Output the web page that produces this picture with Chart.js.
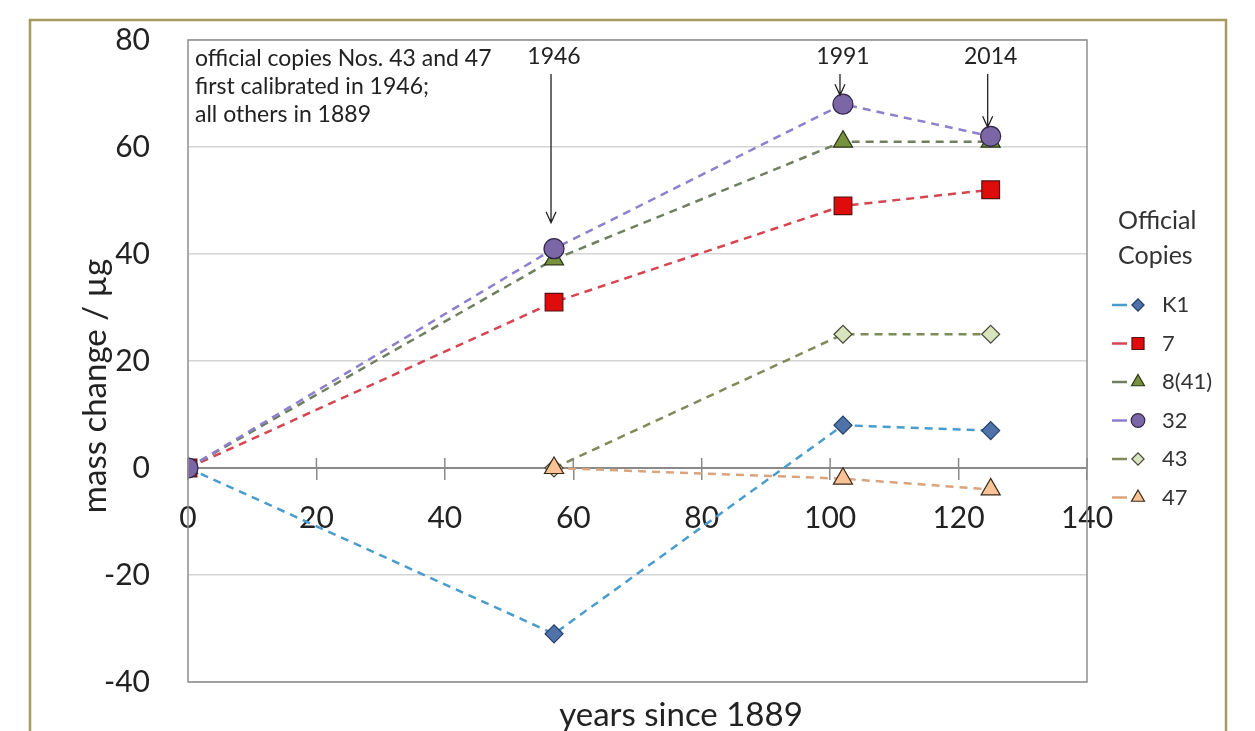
<!DOCTYPE html>
<html lang="en">
  <head>
    <meta charset="UTF-8" />
    <title>Mass change of the official copies</title>
    <script src="https://cdn.jsdelivr.net/npm/chart.js"></script>
    <style>
      body {
        margin: 0;
        background: #fff;
      }
      .chart-box {
        width: 1255px;
        height: 731px;
      }
    </style>
  </head>
  <body>
    <div class="chart-box">
      <canvas id="massChart" width="1255" height="731"></canvas>
    </div>

    <script>
      // years since 1889 for each verification
      const years = [0, 57, 102, 125];
      const lateYears = [57, 102, 125];

      // mass change / µg
      const k1 = [0, -31, 8, 7];
      const copy7 = [0, 31, 49, 52];
      const copy8 = [0, 39, 61, 61];
      const copy32 = [0, 41, 68, 62];
      const copy43 = [0, 25, 25];
      const copy47 = [0, -2, -4];

      const seriesNames = ["K1", "7", "8(41)", "32", "43", "47"];
      const xTickValues = [0, 20, 40, 60, 80, 100, 120, 140];
      const yTickValues = [-40, -20, 0, 20, 40, 60, 80];

      const calibYears = [1946, 1991, 2014];
      const noteLines = [
        "official copies Nos. 43 and 47",
        "first calibrated in 1946;",
        "all others in 1889",
      ];

      const FONT = "Lato";
      Chart.defaults.font.family = FONT;
      Chart.defaults.color = "#222";

      function pts(xs, ys) {
        return xs.map((x, i) => ({ x: x, y: ys[i] }));
      }

      function series(label, xs, ys, line, fill, edge, shape, r, order) {
        return {
          label: label,
          data: pts(xs, ys),
          showLine: true,
          borderColor: line,
          borderWidth: 2.5,
          borderDash: [8, 6],
          pointStyle: shape,
          pointRadius: r,
          pointBackgroundColor: fill,
          pointBorderColor: edge,
          pointBorderWidth: 1.2,
          order: order,
        };
      }

      const datasets = [
        series(seriesNames[0], years, k1, "#4a9ccc", "#4f72a8", "#223e6a", "rectRot", 9, 5),
        series(seriesNames[1], years, copy7, "#d64550", "#e00b0b", "#561010", "rect", 12.5, 4),
        series(seriesNames[2], years, copy8, "#6f7f5f", "#76923c", "#2c3618", "triangle", 11, 3),
        series(seriesNames[3], years, copy32, "#8e7fcf", "#7b67a6", "#2e2448", "circle", 10, 0),
        series(seriesNames[4], lateYears, copy43, "#7f8a5a", "#d7e4bd", "#48483a", "rectRot", 9, 2),
        series(seriesNames[5], lateYears, copy47, "#d9a37c", "#f9c396", "#3a2a1a", "triangle", 11, 1),
      ];

      const decorations = {
        id: "decorations",
        afterDraw(chart) {
          const { ctx, chartArea: a, scales } = chart;
          const xs = scales.x;
          const ys = scales.y;
          ctx.save();

          // outer frame
          ctx.strokeStyle = "#a8995e";
          ctx.lineWidth = 2.5;
          ctx.strokeRect(30, 20, 1196, 760);

          // plot frame
          ctx.strokeStyle = "#8f8f8f";
          ctx.lineWidth = 1.5;
          ctx.strokeRect(a.left, a.top, a.right - a.left, a.bottom - a.top);

          // upper half of x tick marks
          const y0 = ys.getPixelForValue(0);
          ctx.strokeStyle = "#8a8a8a";
          ctx.beginPath();
          xs.ticks.forEach((t) => {
            const px = xs.getPixelForValue(t.value);
            ctx.moveTo(px, y0 - 10);
            ctx.lineTo(px, y0);
          });
          ctx.stroke();

          // axis titles
          ctx.fillStyle = "#222";
          ctx.font = "33px " + FONT;
          ctx.textAlign = "center";
          ctx.textBaseline = "alphabetic";
          ctx.fillText("years since 1889", 681, 726);
          ctx.save();
          ctx.translate(95, 386);
          ctx.rotate(-Math.PI / 2);
          ctx.textBaseline = "middle";
          ctx.fillText("mass change / µg", 0, 0);
          ctx.restore();

          // note in the corner
          ctx.font = "23px " + FONT;
          ctx.textAlign = "left";
          ctx.textBaseline = "middle";
          noteLines.forEach((s, i) => ctx.fillText(s, a.left + 7, 59 + i * 28));

          // calibration arrows, pointing at copy 32
          const gaps = [26, 9, 9];
          ctx.strokeStyle = "#222";
          ctx.lineWidth = 1.3;
          calibYears.forEach((yr, i) => {
            const px = xs.getPixelForValue(yr - 1889);
            const tip = ys.getPixelForValue(copy32[i + 1]) - gaps[i];
            ctx.textAlign = "center";
            ctx.fillText(String(yr), px, 57);
            ctx.beginPath();
            ctx.moveTo(px - 3, 74);
            ctx.lineTo(px - 3, tip);
            ctx.moveTo(px - 8, tip - 11);
            ctx.lineTo(px - 3, tip);
            ctx.lineTo(px + 2, tip - 11);
            ctx.stroke();
          });

          // legend
          ctx.fillStyle = "#333";
          ctx.textAlign = "left";
          ctx.font = "25px " + FONT;
          ctx.fillText("Official", 1118, 221);
          ctx.fillText("Copies", 1118, 256);
          ctx.font = "22px " + FONT;
          datasets.forEach((ds, i) => {
            const cy = 305 + i * 38.5;
            ctx.strokeStyle = ds.borderColor;
            ctx.lineWidth = 2.5;
            ctx.beginPath();
            ctx.moveTo(1112, cy);
            ctx.lineTo(1127, cy);
            ctx.stroke();
            ctx.fillStyle = ds.pointBackgroundColor;
            ctx.strokeStyle = ds.pointBorderColor;
            ctx.lineWidth = 1.2;
            Chart.helpers.drawPoint(
              ctx,
              { pointStyle: ds.pointStyle, radius: ds.pointRadius * 0.68, rotation: 0, borderWidth: 1.2 },
              1138,
              cy
            );
            ctx.fillStyle = "#333";
            ctx.fillText(ds.label, 1162, cy);
          });

          ctx.restore();
        },
      };

      function noPad(s) {
        s.paddingTop = 0;
        s.paddingBottom = 0;
        s.paddingLeft = 0;
        s.paddingRight = 0;
      }

      new Chart(document.getElementById("massChart"), {
        type: "scatter",
        data: { datasets: datasets },
        options: {
          responsive: false,
          animation: false,
          layout: { padding: { left: 0, right: 168, top: 40, bottom: 49 } },
          plugins: {
            legend: { display: false },
            tooltip: { enabled: false },
          },
          scales: {
            x: {
              type: "linear",
              position: { y: 0 },
              min: 0,
              max: 140,
              afterBuildTicks: (s) => {
                s.ticks = xTickValues.map((v) => ({ value: v }));
              },
              afterFit: (s) => {
                s.height = 0;
                noPad(s);
              },
              grid: {
                drawOnChartArea: false,
                drawTicks: true,
                tickLength: 11,
                color: "#8a8a8a",
                lineWidth: 1.5,
              },
              border: { display: true, color: "#8a8a8a", width: 2 },
              ticks: { font: { size: 30 }, color: "#222", padding: 21, maxRotation: 0 },
            },
            y: {
              min: -40,
              max: 80,
              afterBuildTicks: (s) => {
                s.ticks = yTickValues.map((v) => ({ value: v }));
              },
              afterFit: (s) => {
                s.width = 188;
                noPad(s);
              },
              grid: { color: "#d4d4d4", lineWidth: 1.5, drawTicks: false },
              border: { display: false },
              ticks: { font: { size: 30 }, color: "#222", padding: 38 },
            },
          },
        },
        plugins: [decorations],
      });
    </script>
  </body>
</html>
